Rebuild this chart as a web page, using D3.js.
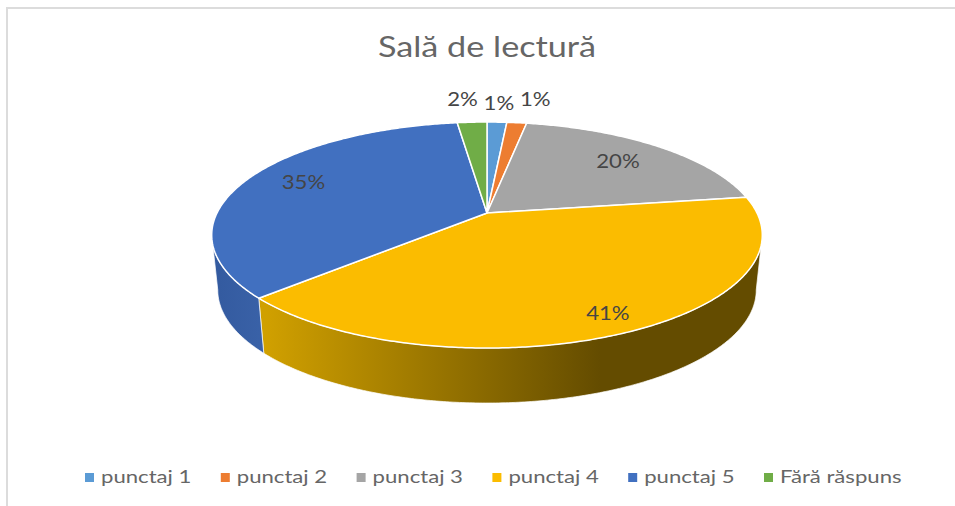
<!DOCTYPE html>
<html>
<head>
<meta charset="utf-8">
<script src="https://cdn.jsdelivr.net/npm/d3@7"></script>
<style>
	html, body { margin: 0; padding: 0; background: #fff; }
	svg { display: block; }
	text { font-family: Lato, 'Open Sans', sans-serif; }
</style>
</head>
<body>
<div id="chart"></div>
<script>
const categories = ['punctaj 1', 'punctaj 2', 'punctaj 3', 'punctaj 4', 'punctaj 5', 'Fără răspuns']
const shares = [1.4, 1.4, 19.8, 40.5, 34.8, 2.1]
const labels = ['1%', '1%', '20%', '41%', '35%', '2%']
const colors = ['#5b9bd5', '#ed7d31', '#a5a5a5', '#fbbc00', '#4170c0', '#70ad47']
const sideColors = ['#4a80b0', '#c0652a', '#868686', '#a07900', '#3a62a8', '#5a8c3a']
const chartTitle = 'Sală de lectură'

const width = 955
const height = 506

// the top of the pie, seen in perspective: apex is the projected centre
const cx = 487
const apexY = 213
const a = 270
const b = 108.7
const k = 0.195
const depth = 55
const shrink = 0.978

function rim(angle) {
	const w = 1 + k * Math.cos(angle)
	return [cx + a * Math.sin(angle) / w, apexY - b * Math.cos(angle) / w]
}
function rimLow(angle) {
	const p = rim(angle)
	return [cx + (p[0] - cx) * shrink, p[1] + depth]
}
function sweep(start, end, fn) {
	const steps = Math.max(2, Math.ceil((end - start) / 0.01))
	return d3.range(steps + 1).map(i => fn(start + (end - start) * i / steps))
}

const svg = d3.select('#chart').append('svg')
	.attr('width', width)
	.attr('height', height)

// picture border, only top and left show
svg.append('path')
	.attr('d', d3.line()([[7, height], [7, 8], [width, 8]]))
	.attr('fill', 'none')
	.attr('stroke', '#dcdcdc')
	.attr('stroke-width', 2)

const defs = svg.append('defs')
const yellowSide = defs.append('linearGradient')
	.attr('id', 'yellow-side')
	.attr('gradientUnits', 'userSpaceOnUse')
	.attr('x1', 266).attr('x2', 600).attr('y1', 0).attr('y2', 0)
yellowSide.append('stop').attr('offset', 0).attr('stop-color', '#d0a000')
yellowSide.append('stop').attr('offset', 1).attr('stop-color', '#644c00')

const blueSide = defs.append('linearGradient')
	.attr('id', 'blue-side')
	.attr('gradientUnits', 'userSpaceOnUse')
	.attr('x1', 213).attr('x2', 266).attr('y1', 0).attr('y2', 0)
blueSide.append('stop').attr('offset', 0).attr('stop-color', '#335a9f')
blueSide.append('stop').attr('offset', 1).attr('stop-color', '#3a62a8')

const arcs = d3.pie().sort(null)(shares)
const line = d3.line()

// side walls run between the widest points of the rim
const wallStart = Math.acos(-k)
const wallEnd = Math.PI * 2 - wallStart
arcs.forEach((d, i) => {
	const start = Math.max(d.startAngle, wallStart)
	const end = Math.min(d.endAngle, wallEnd)
	if (end <= start) return
	const pts = sweep(start, end, rim).concat(sweep(start, end, rimLow).reverse())
	svg.append('path')
		.attr('d', line(pts) + 'Z')
		.attr('fill', i == 3 ? 'url(#yellow-side)' : i == 4 ? 'url(#blue-side)' : sideColors[i])
		.attr('stroke', '#fff')
		.attr('stroke-width', 1)
		.attr('stroke-opacity', 0.7)
})

// top face slices
arcs.forEach((d, i) => {
	const pts = [[cx, apexY]].concat(sweep(d.startAngle, d.endAngle, rim))
	svg.append('path')
		.attr('d', line(pts) + 'Z')
		.attr('fill', colors[i])
		.attr('stroke', '#fff')
		.attr('stroke-width', 1.5)
		.attr('stroke-linejoin', 'round')
})

// stretched text, the source image is wider than tall
function wideText(x, y, size, str, color, anchor, stretch) {
	return svg.append('text')
		.attr('transform', `translate(${x},${y}) scale(${stretch},1)`)
		.attr('text-anchor', anchor)
		.style('font-size', size + 'px')
		.attr('fill', color)
		.text(str)
}

wideText(487, 57, 29, chartTitle, '#666666', 'middle', 1.18)

// data labels, at a fraction of the way out along each slice
const labelOut = [1.2, 1.25, 0.77, 0.85, 0.77, 1.24]
const labelDx = [0, 11, 0, 0, 0, -6]
const labelDy = [0, 0, 0, 0, -3, 0]
arcs.forEach((d, i) => {
	const mid = (d.startAngle + d.endAngle) / 2
	const p = rim(mid)
	const x = cx + (p[0] - cx) * labelOut[i] + labelDx[i]
	const y = apexY + (p[1] - apexY) * labelOut[i] + 6 + labelDy[i]
	wideText(x, y, 18.8, labels[i], '#454545', 'middle', 1.18)
})

// legend
const legendX = d3.scalePoint().domain(categories).range([85, 764])
categories.forEach((c, i) => {
	const x = legendX(c)
	svg.append('rect')
		.attr('x', x)
		.attr('y', 473)
		.attr('width', 9)
		.attr('height', 9)
		.attr('fill', colors[i])
	wideText(x + 16, 483, 18, c, '#666666', 'start', 1.23)
})
</script>
</body>
</html>
